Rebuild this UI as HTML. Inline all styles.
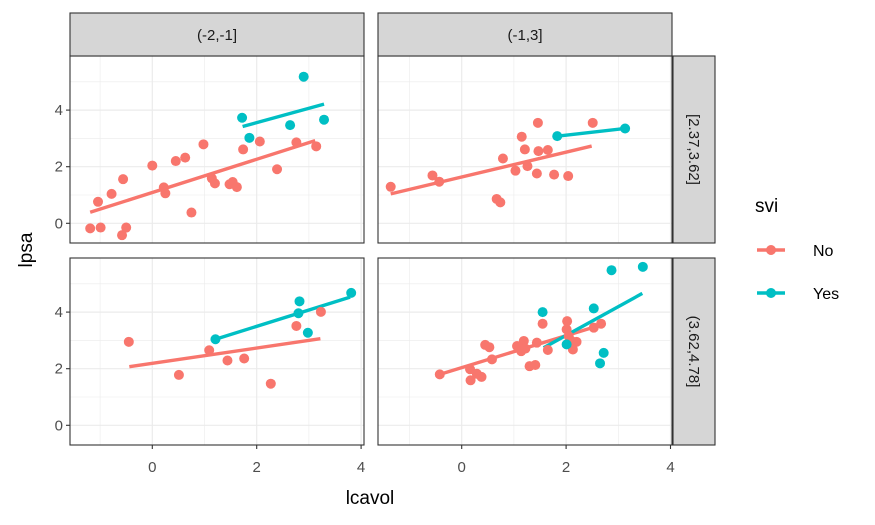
<!DOCTYPE html>
<html><head><meta charset="utf-8"><style>
body{margin:0;background:#fff}
svg{display:block;font-family:"Liberation Sans",sans-serif}
</style></head><body>
<svg id="c" width="875" height="525"></svg>
<script>
const xTicks=[0,2,4];
const yTicks=[0,2,4];
const colTitles=["(-2,-1]","(-1,3]"];
const rowTitles=["[2.37,3.62]","(3.62,4.78]"];
const legendLabels=["No","Yes"];
// panel 0: top-left
const p0NoX=[-1.19,-0.99,-1.04,-0.78,-0.56,-0.50,-0.58,0,0.22,0.25,0.45,0.63,0.75,0.98,1.14,1.2,1.48,1.54,1.62,1.74,2.06,2.39,2.76,3.14];
const p0NoY=[-0.18,-0.15,0.76,1.04,1.56,-0.15,-0.42,2.04,1.27,1.06,2.2,2.32,0.38,2.79,1.59,1.41,1.38,1.46,1.28,2.61,2.89,1.91,2.86,2.72];
const p0YesX=[1.72,1.86,2.64,2.9,3.29];
const p0YesY=[3.73,3.02,3.47,5.18,3.66];
const p0NoFit=[-1.19,0.39,3.12,2.92];
const p0YesFit=[1.73,3.42,3.29,4.21];
// panel 1: top-right
const p1NoX=[-1.36,-0.56,-0.43,0.67,0.74,0.79,1.03,1.15,1.21,1.26,1.44,1.46,1.47,1.65,1.77,2.04,2.51];
const p1NoY=[1.29,1.69,1.47,0.86,0.74,2.29,1.86,3.06,2.61,2.02,1.76,3.55,2.55,2.59,1.72,1.67,3.55];
const p1YesX=[1.83,3.13];
const p1YesY=[3.08,3.35];
const p1NoFit=[-1.36,1.04,2.49,2.73];
const p1YesFit=[1.83,3.08,3.13,3.35];
// panel 2: bottom-left
const p2NoX=[-0.45,0.51,1.09,1.44,1.76,2.27,2.76,3.23];
const p2NoY=[2.95,1.78,2.65,2.29,2.36,1.47,3.51,4.01];
const p2YesX=[1.21,2.82,2.80,2.98,3.81];
const p2YesY=[3.04,4.38,3.96,3.27,4.68];
const p2NoFit=[-0.44,2.07,3.22,3.06];
const p2YesFit=[1.21,3.04,3.79,4.53];
// panel 3: bottom-right
const p3NoX=[-0.42,0.17,0.16,0.29,0.38,0.45,0.53,0.58,1.06,1.14,1.19,1.22,1.3,1.41,1.44,1.55,1.65,2.02,2.01,2.05,2.1,2.2,2.13,2.53,2.67];
const p3NoY=[1.8,1.59,1.98,1.82,1.71,2.84,2.76,2.33,2.8,2.62,2.98,2.71,2.09,2.13,2.92,3.59,2.66,3.68,3.39,3.15,2.98,2.95,2.68,3.45,3.59];
const p3YesX=[1.55,2.01,2.53,2.72,2.65,2.87,3.47];
const p3YesY=[4.0,2.86,4.13,2.56,2.19,5.48,5.6];
const p3NoFit=[-0.42,1.8,2.66,3.54];
const p3YesFit=[1.57,2.74,3.46,4.66];

const RED="#F8766D",TEAL="#00BFC4";
const NS="http://www.w3.org/2000/svg";
const svg=document.getElementById('c');
function mk(t,a,p){const e=document.createElementNS(NS,t);for(const k in a)e.setAttribute(k,a[k]);(p||svg).appendChild(e);return e;}
const X0=[152.3,461.7], XS=52.2, PL=[70,378], PW=294;
const PT=[56,258], PH=187, Y0=[223.3,425.3], YS=28.3;
function sx(c,v){return X0[c]+v*XS;}
function sy(r,v){return Y0[r]-v*YS;}
const panels=[[p0NoX,p0NoY,p0YesX,p0YesY,p0NoFit,p0YesFit],[p1NoX,p1NoY,p1YesX,p1YesY,p1NoFit,p1YesFit],[p2NoX,p2NoY,p2YesX,p2YesY,p2NoFit,p2YesFit],[p3NoX,p3NoY,p3YesX,p3YesY,p3NoFit,p3YesFit]];
panels.forEach((P,i)=>{
  const c=i%2,r=Math.floor(i/2);
  const g=mk('g',{});
  
  
  mk('rect',{x:PL[c],y:PT[r],width:PW,height:PH,fill:'#fff'},g);
  for(let v=-1;v<=3;v+=2)mk('line',{x1:sx(c,v),x2:sx(c,v),y1:PT[r],y2:PT[r]+PH,stroke:'#ebebeb','stroke-width':0.6},g);
  for(let v=1;v<=5;v+=2)mk('line',{x1:PL[c],x2:PL[c]+PW,y1:sy(r,v),y2:sy(r,v),stroke:'#ebebeb','stroke-width':0.6},g);
  xTicks.forEach(v=>mk('line',{x1:sx(c,v),x2:sx(c,v),y1:PT[r],y2:PT[r]+PH,stroke:'#ebebeb','stroke-width':1.2},g));
  yTicks.forEach(v=>mk('line',{x1:PL[c],x2:PL[c]+PW,y1:sy(r,v),y2:sy(r,v),stroke:'#ebebeb','stroke-width':1.2},g));
  const [nx,ny,yx,yy,nf,yf]=P;
  [[nf,RED,'fit-line-no'],[yf,TEAL,'fit-line-yes']].forEach(([f,col,n])=>{
    const l=mk('line',{x1:sx(c,f[0]),y1:sy(r,f[1]),x2:sx(c,f[2]),y2:sy(r,f[3]),stroke:col,'stroke-width':3.4},g);
    
    
  });
  [[nx,ny,RED,'point-no'],[yx,yy,TEAL,'point-yes']].forEach(([xs,ys,col,n])=>{
    xs.forEach((v,k)=>{
      const p=mk('circle',{cx:sx(c,v),cy:sy(r,ys[k]),r:5,fill:col},g);
      
      
    });
  });
  mk('rect',{x:PL[c],y:PT[r],width:PW,height:PH,fill:'none',stroke:'#333','stroke-width':1.1},g);
  if(r===1) xTicks.forEach(v=>{
    mk('line',{x1:sx(c,v),x2:sx(c,v),y1:PT[r]+PH,y2:PT[r]+PH+4,stroke:'#333','stroke-width':1.1},g);
    const t=mk('text',{x:sx(c,v),y:472,'text-anchor':'middle','font-size':15,fill:'#4d4d4d'},g);t.textContent=v;
    
    
  });
  if(c===0) yTicks.forEach(v=>{
    mk('line',{x1:PL[c]-4,x2:PL[c],y1:sy(r,v),y2:sy(r,v),stroke:'#333','stroke-width':1.1},g);
    const t=mk('text',{x:PL[c]-7,y:sy(r,v)+5,'text-anchor':'end','font-size':15,fill:'#4d4d4d'},g);t.textContent=v;
    
    
  });
});
colTitles.forEach((s,c)=>{
  const r=mk('rect',{x:PL[c],y:13,width:PW,height:43,fill:'#d6d6d6',stroke:'#333','stroke-width':1.1});
  
  
  const t=mk('text',{x:PL[c]+PW/2,y:40,'text-anchor':'middle','font-size':15,fill:'#1a1a1a'});t.textContent=s;
  
  
});
rowTitles.forEach((s,r)=>{
  const rc=mk('rect',{x:673,y:PT[r],width:42,height:PH,fill:'#d6d6d6',stroke:'#333','stroke-width':1.1});
  
  
  const cy=PT[r]+PH/2;
  const t=mk('text',{x:689,y:cy,'text-anchor':'middle','font-size':15,fill:'#1a1a1a',transform:`rotate(90 689 ${cy})`});t.textContent=s;
  
  
});
let t=mk('text',{x:370,y:504,'text-anchor':'middle','font-size':19,fill:'#000'});t.textContent='lcavol';


t=mk('text',{x:32,y:250,'text-anchor':'middle','font-size':19,fill:'#000',transform:'rotate(-90 32 250)'});t.textContent='lpsa';


t=mk('text',{x:755,y:212,'font-size':19,fill:'#000'});t.textContent='svi';


legendLabels.forEach((s,i)=>{
  const y=250+i*43, col=i?TEAL:RED;
  const g=mk('g',{});
  
  
  mk('line',{x1:757,x2:785,y1:y,y2:y,stroke:col,'stroke-width':3.4},g);
  mk('circle',{cx:771,cy:y,r:5,fill:col},g);
  const tt=mk('text',{x:813,y:y+6,'font-size':16,fill:'#000'},g);tt.textContent=s;
});
</script>
</body></html>
